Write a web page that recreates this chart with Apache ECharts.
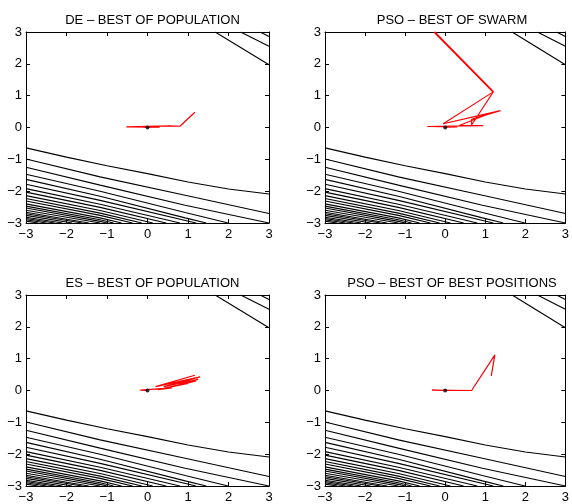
<!DOCTYPE html>
<html>
<head>
<meta charset="utf-8">
<script src="https://cdn.jsdelivr.net/npm/echarts@6/dist/echarts.min.js"></script>
<style>html,body{margin:0;padding:0;background:#fff}#c{width:572px;height:504px}</style>
</head>
<body>
<div id="c"></div>
<script>
// ---- data ----
const titles = ['DE \u2013 BEST OF POPULATION', 'PSO \u2013 BEST OF SWARM', 'ES \u2013 BEST OF POPULATION', 'PSO \u2013 BEST OF BEST POSITIONS'];
const tickValues = [-3, -2, -1, 0, 1, 2, 3];

// contour lines (same background in all four panels)
const contourLower = [
  [[-3,-0.64],[-2,-0.93],[-1,-1.20],[0,-1.45],[1,-1.71],[2,-1.93],[3,-2.09]],
  [[-3,-0.99],[-1.17,-1.55],[0.93,-2.13],[3,-2.70]],
  [[-3,-1.25],[-1.17,-1.81],[0.93,-2.44],[3,-3.0]],
  [[-3,-1.47],[-1.17,-2.00],[0.93,-2.67],[1.99,-3.0]],
  [[-3,-1.63],[-1.17,-2.16],[0.93,-2.84],[1.45,-3.0]],
  [[-3,-1.78],[-1.17,-2.29],[1.2,-3.0]],
  [[-3,-1.92],[-1.17,-2.41],[0.8,-3.0]],
  [[-3,-2.03],[-1.17,-2.51],[0.46,-3.0]],
  [[-3,-2.14],[-1.17,-2.61],[0.13,-3.0]],
  [[-3,-2.23],[-1.17,-2.69],[-0.14,-3.0]],
  [[-3,-2.31],[-1.17,-2.76],[-0.37,-3.0]],
  [[-3,-2.40],[-1.17,-2.84],[-0.64,-3.0]],
  [[-3,-2.47],[-1.17,-2.90],[-0.84,-3.0]],
  [[-3,-2.53],[-1.17,-2.95],[-1.0,-3.0]],
  [[-3,-2.60],[-1.17,-3.0]],
  [[-3,-2.66],[-1.45,-3.0]],
  [[-3,-2.71],[-1.62,-3.0]],
  [[-3,-2.76],[-1.86,-3.0]],
  [[-3,-2.82],[-2.1,-3.0]],
  [[-3,-2.86],[-2.3,-3.0]],
  [[-3,-2.90],[-2.5,-3.0]],
  [[-3,-2.94],[-2.7,-3.0]]
];
const contourUpper = [
  [[1.67,3.0],[3,1.97]],
  [[2.30,3.0],[3,2.55]],
  [[2.78,3.0],[3,2.86]]
];

// optimisation paths
const dePath = [[1.17,0.48],[0.80,0.04],[0.55,0.05],[-0.52,0.02],[0.3,0.01],[-0.1,0.0],[0.08,0.0],[0,0]];
const psoSwarmStart = [[-0.27,3.0],[1.20,1.12]];
const psoSwarmPath = [[1.20,1.12],[0.66,0.08],[0.66,0.26],[1.38,0.53],[-0.05,0.12],[1.12,0.45],[0.35,0.06],[0.95,0.06],[-0.45,0.03],[0.3,0.02],[0,0]];
const psoSwarmExtra = [[1.20,1.12],[-0.05,0.12]];
const esPath = [[1.17,0.48],[0.2,0.12],[1.30,0.43],[0.4,0.12],[1.25,0.35],[0.5,0.08],[1.2,0.30],[0.35,0.05],[1.0,0.22],[0.25,0.03],[0.6,0.08],[-0.18,0.01],[0,0]];
const psoBestPath = [[1.15,0.46],[1.24,1.12],[0.66,0.0],[-0.33,0.01],[0,0]];
const optimum = [[0,0]];

const paths = [[[dePath, 1.2]], [[psoSwarmStart, 1.8], [psoSwarmPath, 1.1], [psoSwarmExtra, 1.1]], [[esPath, 1.2]], [[psoBestPath, 1.2]]];

// ---- layout ----
const grids = [
  {left: 26, top: 32, width: 243, height: 191},
  {left: 325, top: 32, width: 244, height: 191},
  {left: 26, top: 295, width: 243, height: 192},
  {left: 325, top: 295, width: 244, height: 192}
];
const titleTops = [9, 9, 272, 272];
const FONT = 'Liberation Sans, Arial, Helvetica, sans-serif';
const fmt = v => String(v).replace('-', '\u2212');

const xAxes = [], yAxes = [], series = [], titleArr = [];
grids.forEach((g, i) => {
  titleArr.push({text: titles[i], left: g.left + g.width / 2, top: titleTops[i], textAlign: 'center',
    textStyle: {fontSize: 13, fontWeight: 'normal', color: '#000', fontFamily: FONT}});
  const base = (pos, showLabel, isX) => ({
    gridIndex: i, type: 'value', position: pos,
    min: tickValues[0], max: tickValues[tickValues.length - 1], interval: 1,
    axisLine: {show: true, onZero: false, lineStyle: {color: '#000', width: 1}},
    axisTick: {show: true, inside: true, length: 4, lineStyle: {color: '#000'}},
    axisLabel: {show: showLabel, color: '#000', fontSize: 13, fontFamily: FONT, margin: isX ? 5 : 4, formatter: fmt},
    splitLine: {show: false}
  });
  xAxes.push(base('bottom', true, true));
  xAxes.push(base('top', false, true));
  yAxes.push(base('left', true, false));
  yAxes.push(base('right', false, false));
  const ax = 2 * i;
  contourLower.concat(contourUpper).forEach(c => {
    series.push({type: 'line', xAxisIndex: ax, yAxisIndex: ax, data: c, showSymbol: false, silent: true,
      lineStyle: {color: '#000', width: 1.1}, z: 1, animation: false});
  });
  paths[i].forEach(([p, w]) => {
    series.push({type: 'line', xAxisIndex: ax, yAxisIndex: ax, data: p, showSymbol: false, silent: true,
      lineStyle: {color: '#ff0000', width: w}, z: 3, animation: false});
  });
  series.push({type: 'scatter', xAxisIndex: ax, yAxisIndex: ax, data: optimum, symbolSize: 4,
    itemStyle: {color: '#000'}, z: 4, animation: false});
});

const chart = echarts.init(document.getElementById('c'), null, {renderer: 'canvas'});
chart.setOption({
  backgroundColor: '#fff',
  animation: false,
  title: titleArr,
  grid: grids,
  xAxis: xAxes,
  yAxis: yAxes,
  series: series
});
</script>
</body>
</html>
